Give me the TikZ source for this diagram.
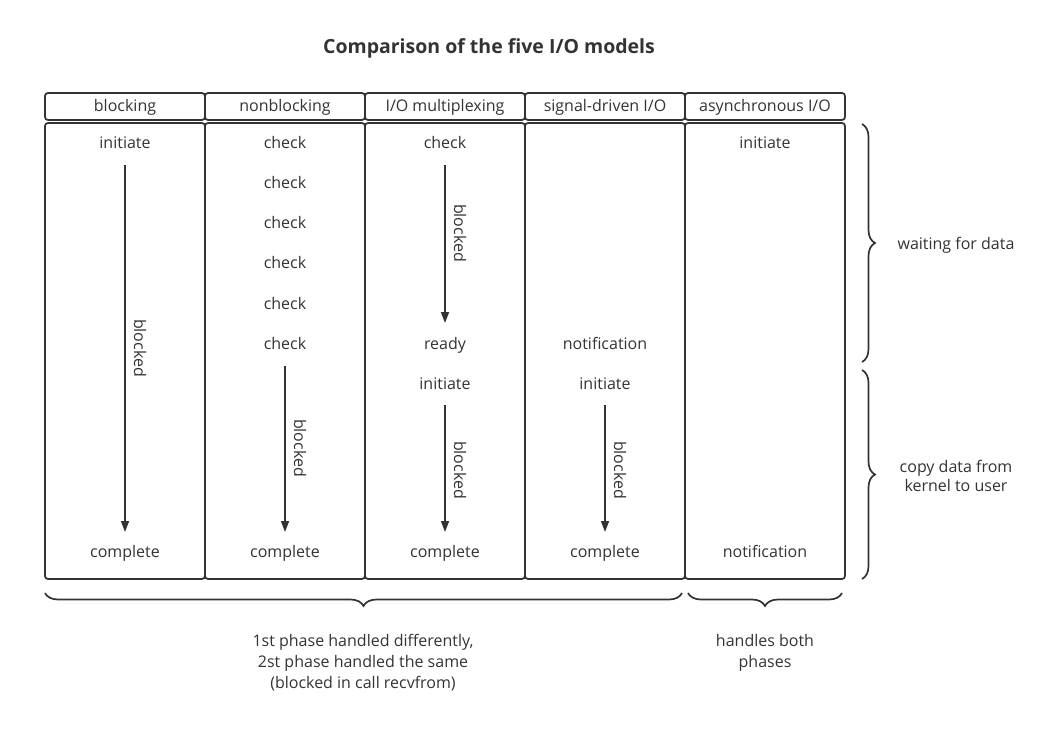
\documentclass[tikz,border=0pt]{standalone}
\usepackage{fontspec}
\setmainfont{Open Sans}
\usetikzlibrary{arrows.meta,decorations.pathreplacing}
\definecolor{ink}{HTML}{333333}
\tikzset{
  box/.style={draw=ink,line width=1.7pt,rounded corners=3pt,minimum width=160pt,inner sep=0pt},
  hdr/.style={box,minimum height=27pt},
  body/.style={box,minimum height=456pt},
  txt/.style={text=ink,font=\fontsize{16}{19}\selectfont,inner sep=0pt,align=center},
  one/.style={txt,text height=12pt,text depth=4pt},
  arr/.style={draw=ink,line width=1.6pt,-{Triangle[length=11pt,width=8pt]}},
  vlab/.style={one,rotate=-90},
  brc/.style={draw=ink,line width=1.7pt,decorate,decoration={brace,amplitude=13pt,raise=0pt}}
}
\begin{document}
\begin{tikzpicture}[x=1pt,y=-1pt]
\useasboundingbox (0,0) rectangle (1054,736);
\node[txt,font=\bfseries\fontsize{19.5}{22}\selectfont] (title) at (489,48) {Comparison of the five I/O models};
% headers
\foreach \i/\x/\t in {1/125/{blocking},2/285/{nonblocking},3/445/{I/O multiplexing},4/605/{signal-driven I/O},5/765/{asynchronous I/O}}{
  \node[hdr] (h\i) at (\x,106.5) {};
  \node[one] (ht\i) at (\x,107.5) {\t};
  \node[body] (b\i) at (\x,351) {};
}
% column 1
\node[one] (c1a) at (125,144) {initiate};
\node[one] (c1z) at (125,553) {complete};
\coordinate (a1s) at (125,165); \coordinate (a1e) at (125,532);
\draw[arr] (a1s) -- (a1e);
\node[vlab] (l1) at (138,348) {blocked};
% column 2
\foreach \j/\y in {1/144,2/184,3/224,4/264,5/305,6/345}{
  \node[one] (c2\j) at (285,\y) {check};
}
\node[one] (c2z) at (285,553) {complete};
\coordinate (a2s) at (285,366); \coordinate (a2e) at (285,532);
\draw[arr] (a2s) -- (a2e);
\node[vlab] (l2) at (298,448) {blocked};
% column 3
\node[one] (c3a) at (445,144) {check};
\node[one] (c3b) at (445,345) {ready};
\node[one] (c3c) at (445,385) {initiate};
\node[one] (c3z) at (445,553) {complete};
\coordinate (a3s) at (445,165); \coordinate (a3e) at (445,323);
\draw[arr] (a3s) -- (a3e);
\node[vlab] (l3) at (458,233) {blocked};
\coordinate (a4s) at (445,405); \coordinate (a4e) at (445,532);
\draw[arr] (a4s) -- (a4e);
\node[vlab] (l4) at (458,470) {blocked};
% column 4
\node[one] (c4a) at (605,345) {notification};
\node[one] (c4b) at (605,385) {initiate};
\node[one] (c4z) at (605,553) {complete};
\coordinate (a5s) at (605,405); \coordinate (a5e) at (605,532);
\draw[arr] (a5s) -- (a5e);
\node[vlab] (l5) at (618,470) {blocked};
% column 5
\node[one] (c5a) at (765,144) {initiate};
\node[one] (c5z) at (765,553) {notification};
% right braces
\coordinate (r1s) at (862,124); \coordinate (r1e) at (862,362);
\draw[brc] (r1s) -- (r1e);
\node[one] (w1) at (956,245) {waiting for data};
\coordinate (r2s) at (862,370); \coordinate (r2e) at (862,579);
\draw[brc] (r2s) -- (r2e);
\node[txt] (w2) at (956,476) {copy data from\\kernel to user};
% bottom braces
\coordinate (d1s) at (682,593); \coordinate (d1e) at (45,593);
\draw[brc] (d1s) -- (d1e);
\node[txt,font=\fontsize{16}{21}\selectfont] (t1) at (363,663) {1st phase handled differently,\\2st phase handled the same\\(blocked in call recvfrom)};
\coordinate (d2s) at (842,593); \coordinate (d2e) at (688,593);
\draw[brc] (d2s) -- (d2e);
\node[txt,font=\fontsize{16}{21}\selectfont] (t2) at (765,653) {handles both\\phases};
\end{tikzpicture}
\end{document}
